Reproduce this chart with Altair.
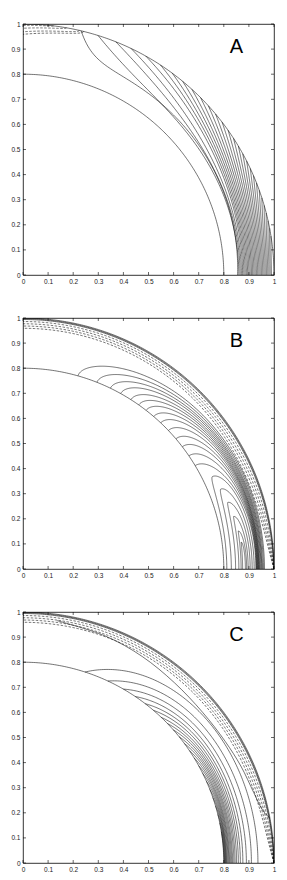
import numpy as np
import pandas as pd
import altair as alt

# ---------------- values ----------------
TICKS = [0, 0.1, 0.2, 0.3, 0.4, 0.5, 0.6, 0.7, 0.8, 0.9, 1]
PANELS = ["A", "B", "C"]
CIRCLE_R = [1.0, 0.8]          # outer wall and inner circle radii
LABEL_POS = [0.85, 0.91]        # panel letter position (data units)

# Panel A: contours running from the x-axis (foot radius) to the outer wall (end angle)
A_foot_r = [0.855, 0.860, 0.865, 0.870, 0.875, 0.880, 0.885, 0.890, 0.895, 0.900,
            0.905, 0.910, 0.915, 0.920, 0.925, 0.930, 0.935, 0.940, 0.945, 0.950,
            0.955, 0.960, 0.965, 0.970, 0.975, 0.980, 0.985, 0.990]
A_end_deg = [76.6, 72.6, 68.3, 64.5, 60.7, 56.8, 53.5, 50.5, 47.7, 45.0,
             42.4, 39.9, 37.5, 35.2, 33.0, 30.9, 28.9, 27.0, 25.1, 23.3,
             21.5, 19.7, 17.9, 16.1, 14.3, 12.5, 10.7, 8.9]
A_lin = [0.033] + [0.0] * 27
A_pow = [19, 6, 4, 3.2] + [2.6] * 24
A_dash_gap = [0.006, 0.017, 0.031, 0.041]     # 1 - y at x = 0
A_dash_join_deg = [83.0, 80.0, 77.0, 76.0]    # where they meet the wall

# Panel B: hairpin contours (tip angle, tip radius, outer / inner foot radii)
B_tip_deg = [74.1, 68.4, 64.2, 60.9, 57.5, 54.8, 52.2, 49.4, 46.7, 43.6, 40.4,
             37.5, 34.3, 31.0, 26.0, 22.0, 18.0, 14.0, 10.0, 7.0]
B_tip_r = [0.8] * 14 + [0.840, 0.850, 0.858, 0.865, 0.871, 0.876]
B_out_r = [0.962, 0.958, 0.954, 0.951, 0.948, 0.945, 0.942, 0.940, 0.938, 0.936,
           0.934, 0.932, 0.930, 0.928, 0.921, 0.913, 0.905, 0.897, 0.891, 0.886]
B_in_r = [0.70] * 14 + [0.812, 0.830, 0.847, 0.860, 0.869, 0.875]
B_wall_solid = [0.003, 0.006]
B_wall_dash = [0.014, 0.023, 0.032, 0.041]

# Panel C: contours leaving the inner circle (start angle) to the x-axis (foot radius)
C_start_deg = [72, 65, 60, 56, 52.5, 49.5, 46.5, 44, 41.5, 39, 36.5, 34, 31.5,
               29, 26.5, 24, 21.5, 19, 16.5, 14, 11.5, 9]
C_foot_r = [0.936, 0.910, 0.890, 0.876, 0.866, 0.858, 0.851, 0.845, 0.840, 0.835,
            0.831, 0.827, 0.823, 0.820, 0.817, 0.814, 0.811, 0.809, 0.807, 0.805,
            0.803, 0.801]
C_sep_deg = [82, 70, 60, 50, 40, 31, 24, 17, 13.5, 11.5, 10.3]
C_sep_r = [0.975, 0.962, 0.950, 0.938, 0.934, 0.940, 0.950, 0.961, 0.972, 0.985, 1.0]
C_wall_solid = [0.003, 0.006]
C_wall_dash = [0.014, 0.023, 0.032, 0.041]

# ---------------- build line tables ----------------
rows = []
counter = [0]


def add(panel, style, th_deg, r):
    th = np.radians(np.asarray(th_deg, dtype=float))
    r = np.asarray(r, dtype=float)
    ok = (r >= 0.8 - 1e-6) & (r <= 1.0 + 1e-6)
    seg = None
    i = 0
    for t, rr, good in zip(th, r, ok):
        if not good:
            seg = None
            continue
        if seg is None:
            counter[0] += 1
            seg = counter[0]
            i = 0
        rows.append({"panel": panel, "style": style, "id": seg, "i": i,
                     "x": round(float(rr * np.cos(t)), 5),
                     "y": round(float(rr * np.sin(t)), 5)})
        i += 1


for p in PANELS:
    th = np.linspace(0, 90, 181)
    for rc in CIRCLE_R:
        add(p, "solid", th, np.full_like(th, rc))

# A
for r0, te, L, pw in zip(A_foot_r, A_end_deg, A_lin, A_pow):
    th = np.linspace(0, te, 160)
    u = th / te
    add("A", "solid", th, r0 + L * u + (1 - r0 - L) * u ** pw)
for g, tj in zip(A_dash_gap, A_dash_join_deg):
    th = np.linspace(tj, 90, 60)
    u = (th - tj) / (90 - tj)
    add("A", "dash", th, 1 - g * u ** 0.5)

# B
phi = np.linspace(0, np.pi, 360)
for T, rt, ro, ri in zip(B_tip_deg, B_tip_r, B_out_r, B_in_r):
    c = np.cos(phi)
    th = T * np.sin(phi) ** 0.8
    r = rt + np.where(c > 0, (ro - rt) * c, (ri - rt) * (-c))
    add("B", "solid", th, r)

for p, ws, wd in (("B", B_wall_solid, B_wall_dash), ("C", C_wall_solid, C_wall_dash)):
    th = np.linspace(0, 90, 200)
    g = 1 - np.exp(-th / 8)
    for d in ws:
        add(p, "solid", th, 1 - d * g)
    for d in wd:
        add(p, "dash", th, 1 - d * g)

# C
for S, r0 in zip(C_start_deg, C_foot_r):
    th = np.linspace(0, S, 160)
    u = th / S
    add("C", "solid", th, 0.8 + (r0 - 0.8) * (1 - u ** 4.5))
add("C", "sep", C_sep_deg, C_sep_r)

data = pd.DataFrame(rows)

# ---------------- chart ----------------
W = 251
H = 251
sc = alt.Scale(domain=[0, 1], nice=False, zero=False)
xax = alt.Axis(values=TICKS, format="~g", ticks=False, domain=False, grid=False,
               labelPadding=3, labelFlush=False, labelOverlap=False)
yax = alt.Axis(values=TICKS, format="~g", ticks=False, domain=False, grid=False,
               labelPadding=3, labelFlush=False, labelOverlap=False)
X = alt.X("x:Q", scale=sc, axis=xax, title=None)
Y = alt.Y("y:Q", scale=sc, axis=yax, title=None)


def panel(name):
    d = data[data.panel == name]
    solid = alt.Chart(d[d["style"] == "solid"]).mark_line(
        color="black", strokeWidth=0.55, clip=True).encode(
        x=X, y=Y, detail="id:N", order="i:Q")
    dash = alt.Chart(d[d["style"] == "dash"]).mark_line(
        color="black", strokeWidth=0.55, strokeDash=[2.5, 1.5], clip=True).encode(
        x=X, y=Y, detail="id:N", order="i:Q")
    layers = [solid, dash]
    sep = d[d["style"] == "sep"]
    if len(sep):
        layers.append(alt.Chart(sep).mark_line(
            color="black", strokeWidth=0.55, interpolate="catmull-rom", clip=True).encode(
            x=X, y=Y, detail="id:N", order="i:Q"))
    lab = alt.Chart(pd.DataFrame({"x": [LABEL_POS[0]], "y": [LABEL_POS[1]], "t": [name]})).mark_text(
        font="Liberation Sans", fontSize=20, color="black", align="center", baseline="middle").encode(
        x=X, y=Y, text="t:N")
    tx = pd.DataFrame({"x": TICKS})
    ty = pd.DataFrame({"y": TICKS})
    tk = dict(color="black", strokeWidth=0.6)
    bot = alt.Chart(tx).mark_rule(**tk).encode(x=X, y=alt.value(H), y2=alt.value(H - 3))
    top = alt.Chart(tx).mark_rule(**tk).encode(x=X, y=alt.value(0), y2=alt.value(3))
    lef = alt.Chart(ty).mark_rule(**tk).encode(y=Y, x=alt.value(0), x2=alt.value(3))
    rig = alt.Chart(ty).mark_rule(**tk).encode(y=Y, x=alt.value(W - 3), x2=alt.value(W))
    return alt.layer(*layers, lab, bot, top, lef, rig).properties(width=W, height=H)


chart = alt.vconcat(panel("A"), panel("B"), panel("C"), spacing=29).properties(
    padding={"left": 2, "top": 12, "right": 0, "bottom": 0}
).configure_view(stroke="black", strokeWidth=0.8).configure_axis(
    labelFont="Liberation Sans", labelFontSize=6.5, labelColor="#222")

chart.save("out.html", embed_options={"renderer": "svg", "actions": False})
